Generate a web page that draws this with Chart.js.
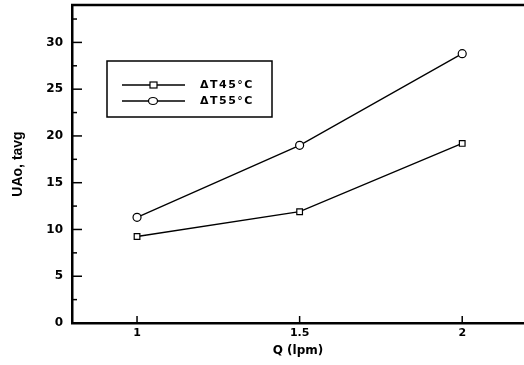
<!DOCTYPE html>
<html>
<head>
<meta charset="utf-8">
<script src="https://cdn.jsdelivr.net/npm/chart.js@4"></script>
<style>
  html, body { margin: 0; padding: 0; background: #fff; overflow: hidden; }
  #wrap { width: 524px; height: 365px; }
</style>
</head>
<body>
<div id="wrap"><canvas id="chart" width="524" height="365"></canvas></div>
<script>
// values
const flowRates = [1, 1.5, 2];
const dt45 = [9.25, 11.9, 19.2];
const dt55 = [11.3, 19.0, 28.8];
const seriesNames = ["\u0394T45\u00b0C", "\u0394T55\u00b0C"];
const xTicks = [1, 1.5, 2];
const yMajor = [0, 5, 10, 15, 20, 25, 30];
const yMinor = [2.5, 7.5, 12.5, 17.5, 22.5, 27.5, 32.5];

// ticks drawn inside the plot, plus the top frame line and the boxed legend
const framePlugin = {
    id: "frame",
    afterDraw(chart) {
        const ctx = chart.ctx;
        const area = chart.chartArea;
        const xs = chart.scales.x;
        const ys = chart.scales.y;
        ctx.save();
        ctx.strokeStyle = "#000";
        ctx.lineWidth = 1.5;
        yMajor.forEach(v => {
            const y = ys.getPixelForValue(v);
            ctx.beginPath(); ctx.moveTo(area.left, y); ctx.lineTo(area.left + 10, y); ctx.stroke();
        });
        yMinor.forEach(v => {
            const y = ys.getPixelForValue(v);
            ctx.beginPath(); ctx.moveTo(area.left, y); ctx.lineTo(area.left + 5, y); ctx.stroke();
        });
        xTicks.forEach(v => {
            const x = xs.getPixelForValue(v);
            ctx.beginPath(); ctx.moveTo(x, area.bottom); ctx.lineTo(x, area.bottom - 7); ctx.stroke();
        });
        // top frame
        ctx.lineWidth = 2.5;
        ctx.beginPath(); ctx.moveTo(area.left - 1, area.top); ctx.lineTo(area.right, area.top); ctx.stroke();

        // legend
        const bx = 107, by = 61, bw = 165, bh = 56;
        ctx.lineWidth = 1.5;
        ctx.strokeRect(bx, by, bw, bh);
        ctx.font = "bold 11px 'DejaVu Sans'";
        ctx.letterSpacing = "1.5px";
        ctx.fillStyle = "#000";
        ctx.textBaseline = "middle";
        chart.data.datasets.forEach((ds, i) => {
            const y = by + 24 + i * 16;
            ctx.lineWidth = 1.3;
            ctx.beginPath(); ctx.moveTo(bx + 15, y); ctx.lineTo(bx + 78, y); ctx.stroke();
            ctx.fillStyle = "#fff";
            ctx.lineWidth = 1.2;
            if (ds.pointStyle === "rect") {
                ctx.fillRect(bx + 43, y - 3, 7, 6);
                ctx.strokeRect(bx + 43, y - 3, 7, 6);
            } else {
                ctx.beginPath(); ctx.ellipse(bx + 46, y, 4.5, 3.5, 0, 0, Math.PI * 2); ctx.fill(); ctx.stroke();
            }
            ctx.fillStyle = "#000";
            ctx.fillText(ds.label, bx + 93, y);
        });
        ctx.restore();
    }
};

new Chart(document.getElementById("chart"), {
    type: "line",
    data: {
        datasets: [
            {
                label: seriesNames[0],
                data: flowRates.map((q, i) => ({ x: q, y: dt45[i] })),
                borderColor: "#000",
                borderWidth: 1.3,
                pointStyle: "rect",
                pointRadius: 4,
                pointBackgroundColor: "#fff",
                pointBorderColor: "#000",
                pointBorderWidth: 1.2
            },
            {
                label: seriesNames[1],
                data: flowRates.map((q, i) => ({ x: q, y: dt55[i] })),
                borderColor: "#000",
                borderWidth: 1.3,
                pointStyle: "circle",
                pointRadius: 4,
                pointBackgroundColor: "#fff",
                pointBorderColor: "#000",
                pointBorderWidth: 1.2
            }
        ]
    },
    options: {
        responsive: false,
        animation: false,
        layout: { autoPadding: false, padding: { top: 5, right: 0, left: 0, bottom: 0 } },
        plugins: { legend: { display: false }, tooltip: { enabled: false } },
        scales: {
            x: {
                type: "linear",
                min: 0.8,
                max: 2.19,
                afterBuildTicks: s => { s.ticks = xTicks.map(v => ({ value: v })); },
                afterFit: s => {
                    s.height = 42;
                    s.paddingLeft = 0; s.paddingRight = 0;
                },
                grid: { display: false, drawTicks: false },
                border: { color: "#000", width: 2.5 },
                ticks: {
                    color: "#000",
                    font: { family: "'DejaVu Sans'", size: 11, weight: "bold" },
                    padding: 4,
                    maxRotation: 0,
                    callback: v => String(v)
                },
                title: {
                    display: true,
                    text: "Q (lpm)",
                    color: "#000",
                    font: { family: "'DejaVu Sans'", size: 12, weight: "bold" },
                    padding: { top: 2, bottom: 7 }
                }
            },
            y: {
                min: 0,
                max: 34,
                afterBuildTicks: s => { s.ticks = yMajor.map(v => ({ value: v })); },
                afterFit: s => {
                    s.width = 72;
                    s.paddingTop = 0; s.paddingBottom = 0;
                },
                grid: { display: false, drawTicks: false },
                border: { color: "#000", width: 2.5 },
                ticks: {
                    color: "#000",
                    font: { family: "'DejaVu Sans'", size: 12, weight: "bold" },
                    padding: 9
                },
                title: {
                    display: true,
                    text: "UAo, tavg",
                    color: "#000",
                    font: { family: "'Liberation Sans'", size: 14, weight: "bold" },
                    padding: { top: 10, bottom: 4 }
                }
            }
        }
    },
    plugins: [framePlugin]
});
</script>
</body>
</html>
